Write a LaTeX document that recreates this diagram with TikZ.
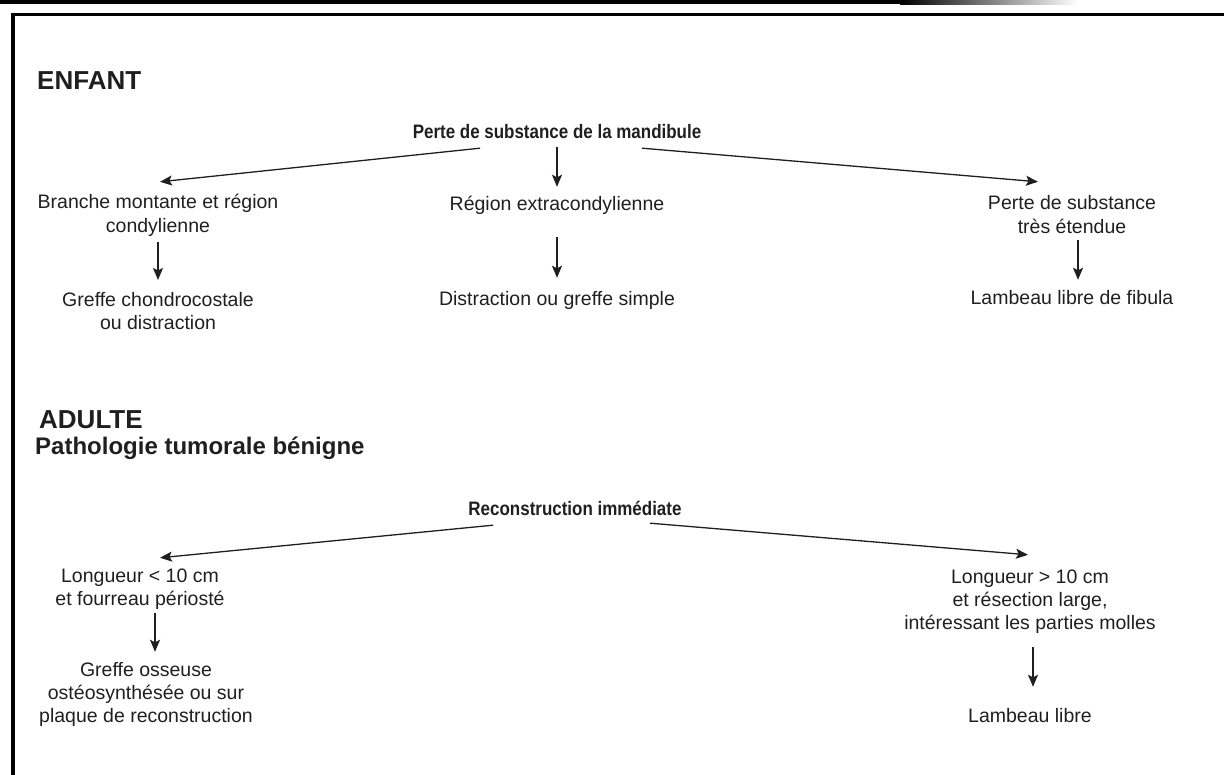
\documentclass[tikz,border=0pt]{standalone}
\usepackage{fontspec}
\setmainfont{Liberation Sans}
\newfontfamily\condsans[FakeStretch=0.87]{Liberation Sans}
\usetikzlibrary{arrows.meta,calc}
\definecolor{ink}{gray}{0.12}
\newcommand\mlines[1]{\begin{tabular}[t]{@{}c@{}}#1\end{tabular}}
\begin{document}
\begin{tikzpicture}[x=1pt,y=-1pt,
  txt/.style={inner sep=0pt, anchor=base, text=ink, font=\fontsize{19.5}{23.3}\selectfont},
  bcond/.style={inner sep=0pt, anchor=base, text=ink, font=\condsans\bfseries\fontsize{19.5}{23.3}\selectfont},
  head/.style={inner sep=0pt, anchor=base west, text=ink, font=\bfseries\fontsize{26}{30}\selectfont},
  subhead/.style={inner sep=0pt, anchor=base west, text=ink, font=\bfseries\fontsize{24}{28}\selectfont},
  arr/.style={draw=ink, line width=1.3pt, -{Stealth[length=12pt,width=10pt,inset=2.5pt]}},
  frameline/.style={draw=black, line width=3.8pt}]
\useasboundingbox (0,0) rectangle (1224,775);
% top bar
\fill[black] (0,0) rectangle (900,4.5);
\shade[left color=black, right color=white] (900,0) rectangle (1078,4.5);
% frame
\draw[frameline] (1224,14.5) -- (13,14.5) -- (13,775);

% ENFANT
\node[head] (enfant) at (37,90) {ENFANT};
\node[bcond] (root) at (557,139) {\mlines{Perte de substance de la mandibule}};
\node[txt] (bm) at (158,209) {\mlines{Branche montante et région\\condylienne}};
\node[txt] (gc) at (158,306.5) {\mlines{Greffe chondrocostale\\ou distraction}};
\node[txt] (re) at (557,211) {\mlines{Région extracondylienne}};
\node[txt] (ds) at (557,306) {\mlines{Distraction ou greffe simple}};
\node[txt] (ps) at (1072,210) {\mlines{Perte de substance\\très étendue}};
\node[txt] (lf) at (1072,305) {\mlines{Lambeau libre de fibula}};

\draw[arr] ($(root.south)+(-77,2)$) -- ($(bm.north)+(2,-10.7)$);
\draw[arr] ($(root.south)+(0,1)$) -- ($(re.north)+(0,-7.7)$);
\draw[arr] ($(root.south)+(85,2)$) -- ($(ps.north)+(-34,-11.7)$);
\draw[arr] ($(bm.south)+(0,3)$) -- ($(gc.north)+(0,-10)$);
\draw[arr] ($(re.south)+(0,19)$) -- ($(ds.north)+(0,-11.7)$);
\draw[arr] ($(ps.south)+(6,0)$) -- ($(lf.north)+(6,-8.7)$);

% ADULTE
\node[head] (adulte) at (39,429) {ADULTE};
\node[subhead] (patho) at (35,455) {Pathologie tumorale bénigne};
\node[bcond] (rc) at (575,515) {\mlines{Reconstruction immédiate}};
\node[txt] (lg) at (140,582) {\mlines{Longueur < 10 cm\\et fourreau périosté}};
\node[txt] (go) at (146,676) {\mlines{Greffe osseuse\\ostéosynthésée ou sur\\plaque de reconstruction}};
\node[txt] (lr) at (1030,583) {\mlines{Longueur > 10 cm\\et résection large,\\intéressant les parties molles}};
\node[txt] (lb) at (1030,722) {\mlines{Lambeau libre}};

\draw[arr] ($(rc.south)+(-82,3)$) -- ($(lg.north)+(20,-7.7)$);
\draw[arr] ($(rc.south)+(75,1)$) -- ($(lr.north)+(-2,-11.7)$);
\draw[arr] ($(lg.south)+(15,0.7)$) -- ($(go.north)+(9,-7.7)$);
\draw[arr] ($(lr.south)+(3,10.4)$) -- ($(lb.north)+(3,-18.7)$);
\end{tikzpicture}
\end{document}
